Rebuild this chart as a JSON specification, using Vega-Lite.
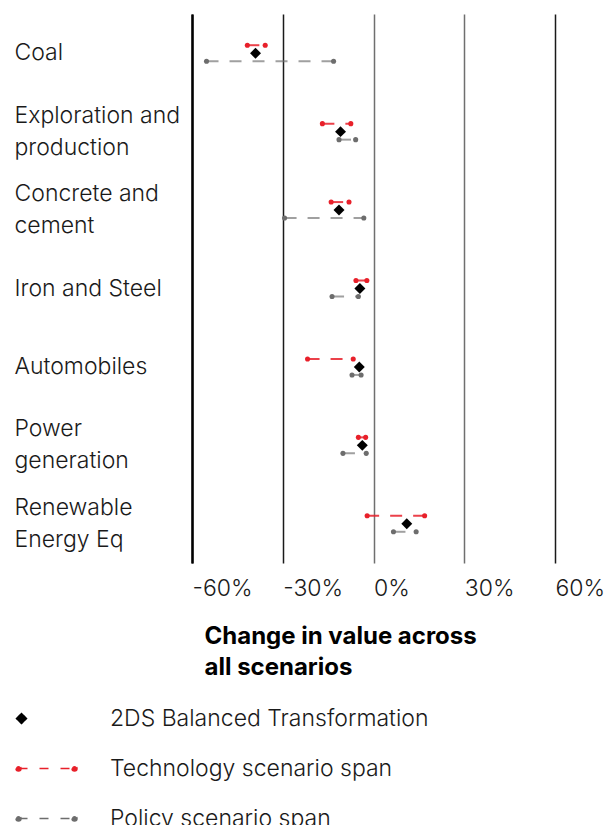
{
  "$schema": "https://vega.github.io/schema/vega-lite/v6.json",
  "width": 363,
  "height": 549,
  "padding": {"left": 14, "top": 14, "right": 0, "bottom": 0},
  "background": "white",
  "config": {
    "view": {"stroke": null},
    "font": "Inter"
  },
  "data": {
    "values": [
      {"cat": "Coal", "series": "2DS Balanced Transformation", "v": -39},
      {"cat": "Coal", "series": "Technology scenario span", "lo": -41.7, "hi": -35.8},
      {"cat": "Coal", "series": "Policy scenario span", "lo": -55.2, "hi": -13.2},
      {"cat": "Exploration and production", "series": "2DS Balanced Transformation", "v": -10.9},
      {"cat": "Exploration and production", "series": "Technology scenario span", "lo": -16.9, "hi": -7.5},
      {"cat": "Exploration and production", "series": "Policy scenario span", "lo": -11.4, "hi": -5.9},
      {"cat": "Concrete and cement", "series": "2DS Balanced Transformation", "v": -11.4},
      {"cat": "Concrete and cement", "series": "Technology scenario span", "lo": -14, "hi": -8.1},
      {"cat": "Concrete and cement", "series": "Policy scenario span", "lo": -29.4, "hi": -3.2},
      {"cat": "Iron and Steel", "series": "2DS Balanced Transformation", "v": -4.5},
      {"cat": "Iron and Steel", "series": "Technology scenario span", "lo": -5.8, "hi": -2.2},
      {"cat": "Iron and Steel", "series": "Policy scenario span", "lo": -13.7, "hi": -5},
      {"cat": "Automobiles", "series": "2DS Balanced Transformation", "v": -4.7},
      {"cat": "Automobiles", "series": "Technology scenario span", "lo": -21.8, "hi": -6.7},
      {"cat": "Automobiles", "series": "Policy scenario span", "lo": -7.1, "hi": -4.1},
      {"cat": "Power generation", "series": "2DS Balanced Transformation", "v": -3.7},
      {"cat": "Power generation", "series": "Technology scenario span", "lo": -5, "hi": -2.6},
      {"cat": "Power generation", "series": "Policy scenario span", "lo": -10.1, "hi": -2.4},
      {"cat": "Renewable Energy Eq", "series": "2DS Balanced Transformation", "v": 11},
      {"cat": "Renewable Energy Eq", "series": "Technology scenario span", "lo": -2.1, "hi": 16.9},
      {"cat": "Renewable Energy Eq", "series": "Policy scenario span", "lo": 6.6, "hi": 14.1}
    ]
  },
  "encoding": {
    "y": {
      "field": "cat",
      "type": "nominal",
      "sort": null,
      "scale": {"paddingInner": 0, "paddingOuter": 0},
      "axis": {
        "title": null,
        "orient": "left",
        "ticks": false,
        "tickSize": 0,
        "grid": false,
        "domain": true,
        "domainColor": "#000000",
        "domainWidth": 2.5,
        "labelAlign": "left",
        "labelBaseline": "middle",
        "labelPadding": 178,
        "labelFont": "Inter",
        "labelFontWeight": 300,
        "labelFontSize": 23,
        "labelLineHeight": 32,
        "labelColor": "#1a1a1a",
        "labelLimit": 400,
        "labelOffset": {"condition": {"test": "indexof(['Exploration and production', 'Concrete and cement', 'Power generation', 'Renewable Energy Eq'], datum.label) >= 0", "value": -16}, "value": 0},
        "labelExpr": "datum.label == 'Exploration and production' ? ['Exploration and', 'production'] : datum.label == 'Concrete and cement' ? ['Concrete and', 'cement'] : datum.label == 'Power generation' ? ['Power', 'generation'] : datum.label == 'Renewable Energy Eq' ? ['Renewable', 'Energy Eq'] : datum.label"
      }
    }
  },
  "layer": [
    {
      "transform": [{"filter": "datum.series == '2DS Balanced Transformation'"}],
      "mark": {"type": "point", "shape": "diamond", "filled": true, "size": 120, "opacity": 1},
      "encoding": {
        "x": {
          "field": "v",
          "type": "quantitative",
          "scale": {"domain": [-60, 60], "nice": false, "zero": false},
          "axis": {
            "orient": "bottom",
            "values": [-60, -30, 0, 30, 60],
            "labelExpr": "datum.value + '%'",
            "labelAlign": "left",
            "labelBaseline": "top",
            "labelPadding": 14,
            "labelFont": "Inter",
            "labelFontWeight": 300,
            "labelFontSize": 23,
            "labelColor": "#1a1a1a",
            "ticks": false,
            "tickSize": 0,
            "domain": false,
            "grid": true,
            "gridWidth": 1.5,
            "gridColor": {"condition": {"test": "datum.value == 0 || datum.value == 30", "value": "#6f6f6f"}, "value": "#1a1a1a"},
            "title": ["Change in value across", "all scenarios"],
            "titleFont": "Inter",
            "titleFontWeight": "bold",
            "titleFontSize": 24,
            "titleColor": "#000000",
            "titleAlign": "left",
            "titleAnchor": "start",
            "titleBaseline": "top",
            "titleLineHeight": 31,
            "titleX": 12,
            "titleY": 61
          }
        },
        "color": {
          "field": "series",
          "type": "nominal",
          "scale": {
            "domain": ["2DS Balanced Transformation", "Technology scenario span", "Policy scenario span"],
            "range": ["#000000", "#e8202a", "#6d6d6d"]
          },
          "legend": {
            "title": null,
            "orient": "none",
            "legendX": -157,
            "legendY": 693,
            "padding": 0,
            "rowPadding": 26,
            "labelOffset": 52,
            "labelFont": "Inter",
            "labelFontWeight": 300,
            "labelFontSize": 23,
            "labelColor": "#1a1a1a",
            "labelLimit": 500,
            "symbolOffset": 0,
            "encoding": {
              "symbols": {
                "shape": {
                  "condition": {"test": "datum.value === '2DS Balanced Transformation'", "value": "M-5,-1L-4,0L-5,1L-6,0Z"},
                  "value": "M-5.6,0L5.6,0M-6.1,0A0.5,0.5 0 1,0 -5.1,0A0.5,0.5 0 1,0 -6.1,0ZM5.1,0A0.5,0.5 0 1,0 6.1,0A0.5,0.5 0 1,0 5.1,0Z"
                },
                "size": {"value": 100},
                "opacity": {"value": 1},
                "fill": {
                  "condition": [
                    {"test": "datum.value === '2DS Balanced Transformation'", "value": "#000000"},
                    {"test": "datum.value === 'Technology scenario span'", "value": "#e8202a"}
                  ],
                  "value": "#6d6d6d"
                },
                "stroke": {
                  "condition": [
                    {"test": "datum.value === '2DS Balanced Transformation'", "value": "#000000"},
                    {"test": "datum.value === 'Technology scenario span'", "value": "#e8202a"}
                  ],
                  "value": "#8a8a8a"
                },
                "strokeWidth": {"value": 1.5},
                "strokeDash": {
                  "condition": {"test": "datum.value === '2DS Balanced Transformation'", "value": [1, 0]},
                  "value": [9, 12]
                }
              }
            }
          }
        }
      }
    },
    {
      "transform": [{"filter": "datum.series == 'Technology scenario span'"}],
      "mark": {"type": "rule", "yOffset": -8, "strokeWidth": 2, "strokeDash": [12, 11], "strokeOpacity": 0.85},
      "encoding": {
        "x": {"field": "lo", "type": "quantitative"},
        "x2": {"field": "hi"},
        "color": {"field": "series", "type": "nominal", "legend": null}
      }
    },
    {
      "transform": [{"filter": "datum.series == 'Policy scenario span'"}],
      "mark": {"type": "rule", "yOffset": 8, "strokeWidth": 2, "strokeDash": [12, 11], "strokeOpacity": 0.65},
      "encoding": {
        "x": {"field": "lo", "type": "quantitative"},
        "x2": {"field": "hi"},
        "color": {"field": "series", "type": "nominal", "legend": null}
      }
    },
    {
      "transform": [
        {"filter": "datum.series == 'Technology scenario span'"},
        {"fold": ["lo", "hi"], "as": ["end", "pos"]}
      ],
      "mark": {"type": "point", "shape": "circle", "filled": true, "size": 26, "opacity": 1, "yOffset": -8},
      "encoding": {
        "x": {"field": "pos", "type": "quantitative"},
        "color": {"field": "series", "type": "nominal", "legend": null}
      }
    },
    {
      "transform": [
        {"filter": "datum.series == 'Policy scenario span'"},
        {"fold": ["lo", "hi"], "as": ["end", "pos"]}
      ],
      "mark": {"type": "point", "shape": "circle", "filled": true, "size": 26, "opacity": 1, "yOffset": 8},
      "encoding": {
        "x": {"field": "pos", "type": "quantitative"},
        "color": {"field": "series", "type": "nominal", "legend": null}
      }
    }
  ]
}
